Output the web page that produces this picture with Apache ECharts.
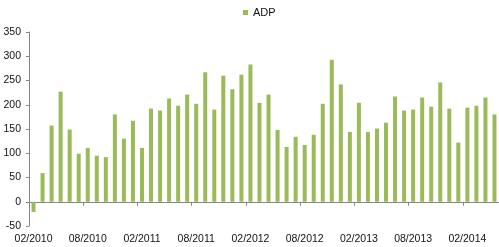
<!DOCTYPE html>
<html>
<head>
<meta charset="utf-8">
<script src="https://cdn.jsdelivr.net/npm/echarts@6/dist/echarts.min.js"></script>
<style>
html,body{margin:0;padding:0;background:#fff;}
#c{width:499px;height:247px;}
</style>
</head>
<body>
<div id="c"></div>
<script>
var categories = [
  "02/2010","03/2010","04/2010","05/2010","06/2010","07/2010","08/2010","09/2010","10/2010","11/2010","12/2010",
  "01/2011","02/2011","03/2011","04/2011","05/2011","06/2011","07/2011","08/2011","09/2011","10/2011","11/2011","12/2011",
  "01/2012","02/2012","03/2012","04/2012","05/2012","06/2012","07/2012","08/2012","09/2012","10/2012","11/2012","12/2012",
  "01/2013","02/2013","03/2013","04/2013","05/2013","06/2013","07/2013","08/2013","09/2013","10/2013","11/2013","12/2013",
  "01/2014","02/2014","03/2014","04/2014","05/2014"
];
var adpValues = [
  -21, 59, 157, 227, 149, 99, 111, 95, 92, 180, 130,
  167, 111, 192, 188, 213, 198, 221, 202, 267, 190, 260, 232,
  262, 283, 204, 221, 148, 113, 134, 117, 138, 202, 293, 242,
  144, 204, 144, 151, 163, 217, 188, 190, 215, 196, 246, 192,
  122, 194, 198, 215, 180
];
var yTicks = {min: -50, max: 350, interval: 50};

var FONT = 'Liberation Sans, Arial, sans-serif';
var chart = echarts.init(document.getElementById('c'), null, {renderer: 'canvas'});
chart.setOption({
  animation: false,
  backgroundColor: '#ffffff',
  textStyle: {fontFamily: FONT},
  legend: {
    data: ['ADP'],
    left: 238,
    top: 2,
    icon: 'rect',
    itemWidth: 5,
    itemHeight: 5,
    textStyle: {fontSize: 11, color: '#111', fontFamily: FONT}
  },
  grid: {left: 29, right: 0, top: 32, bottom: 21, containLabel: false, outerBoundsMode: 'none'},
  xAxis: [{
    type: 'category',
    data: categories,
    position: 'bottom',
    boundaryGap: true,
    axisLine: {show: false, onZero: false},
    axisTick: {show: false},
    axisLabel: {interval: 5, margin: 8, fontSize: 10.5, color: '#111', fontFamily: FONT},
    splitLine: {show: false}
  }, {
    type: 'category',
    data: categories,
    position: 'top',
    boundaryGap: true,
    axisLine: {show: true, onZero: true, lineStyle: {color: '#868686', width: 1}},
    axisTick: {show: true, inside: true, interval: 5, length: 4, lineStyle: {color: '#868686'}},
    axisLabel: {show: false},
    splitLine: {show: false}
  }],
  yAxis: {
    type: 'value',
    min: yTicks.min,
    max: yTicks.max,
    interval: yTicks.interval,
    axisLine: {show: true, lineStyle: {color: '#868686', width: 1}},
    axisTick: {show: true, length: 3, lineStyle: {color: '#868686'}},
    axisLabel: {margin: 8, fontSize: 10.5, color: '#111', fontFamily: FONT},
    splitLine: {show: false}
  },
  series: [{
    name: 'ADP',
    type: 'bar',
    xAxisIndex: 0,
    data: adpValues,
    barWidth: 4,
    itemStyle: {color: '#9BBB59'}
  }]
});
</script>
</body>
</html>
